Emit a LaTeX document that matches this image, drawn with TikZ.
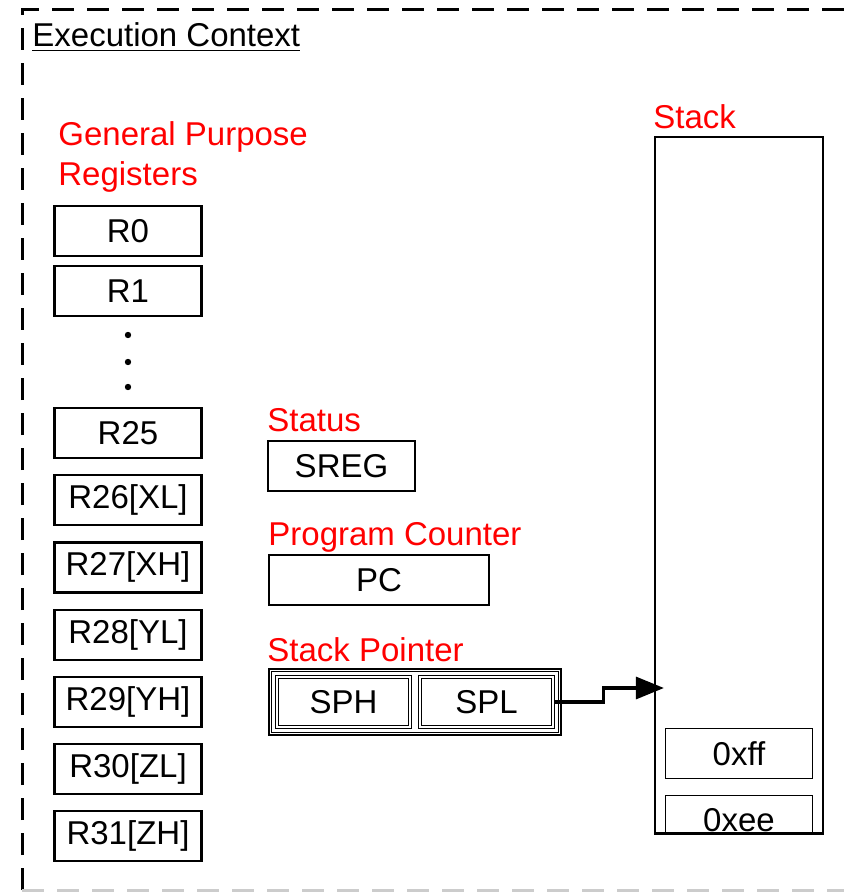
\documentclass[tikz,border=0pt]{standalone}
\usepackage{fontspec}
\setmainfont{Liberation Sans}
\usepackage{tikz}
\usetikzlibrary{arrows.meta,positioning,fit}

\begin{document}
\begin{tikzpicture}[
  x=0.5pt, y=-0.5pt,
  node distance=7.5pt,
  font=\fontsize{16.5}{20}\selectfont,
  reg/.style={rectangle, draw, line width=1.1pt, minimum width=73.5pt, minimum height=25pt, inner sep=0pt},
  cell/.style={rectangle, draw, line width=0.8pt, double, double distance=0.6pt, minimum height=25pt, inner sep=0pt},
  title/.style={anchor=base west, inner sep=0pt, text=red, align=left},
  ptr/.style={-{Triangle[length=14pt,width=11pt]}, line width=1.6pt}
]
  \useasboundingbox (0,0) rectangle (843,892);
  % outer frame (runs off the right edge)
  \draw[line width=1.5pt, dash pattern=on 11pt off 6.5pt] (22,890) -- (22,10) -- (870,10);
  \draw[line width=1.5pt, dash pattern=on 11pt off 6.5pt, gray!40] (22,890) -- (870,890);
  \node[anchor=base west, inner sep=0pt] (ctx) at (32,47) {\underline{Execution Context}};

  % general purpose registers
  \node[title] (gprlbl) at (58,186) {General Purpose\\Registers};
  \node[reg] (r0) at (128,231) {R0};
  \node[reg] (r1) at (128,291) {R1};
  \fill (128,335) circle (1.6pt);
  \fill (128,362) circle (1.6pt);
  \fill (128,387) circle (1.6pt);
  \node[reg] (r25) at (128,433) {R25};
  \node[reg, below=of r25] (r26) {R26[XL]};
  \node[reg, below=of r26] (r27) {R27[XH]};
  \node[reg, below=of r27] (r28) {R28[YL]};
  \node[reg, below=of r28] (r29) {R29[YH]};
  \node[reg, below=of r29] (r30) {R30[ZL]};
  \node[reg, below=of r30] (r31) {R31[ZH]};

  % status, program counter, stack pointer
  \node[title] (sreglbl) at (267,431) {Status};
  \node[reg] (sreg) at (341.5,466) {SREG};
  \node[title] (pclbl) at (268,545) {Program Counter};
  \node[reg, minimum width=110pt] (pc) at (379,580) {PC};
  \node[title] (splbl) at (267,661) {Stack Pointer};
  \node[cell, minimum width=66.5pt] (sph) at (343.5,702) {SPH};
  \node[cell, minimum width=66.5pt] (spl) at (486.5,702) {SPL};
  \node[draw, line width=0.8pt, double, double distance=0.6pt, fit=(sph)(spl), inner sep=3pt] (sp) {};

  % stack
  \node[title] (stacklbl) at (653,129) {Stack};
  \node[draw, line width=1.1pt, minimum width=84pt, minimum height=348pt, inner sep=0pt] (stack) at (739,485) {};
  \node[reg, line width=0.9pt] (xff) at (739,753.5) {0xff};
  \begin{scope}
    \clip (stack.south west) rectangle (stack.north east);
    \node[reg, line width=0.9pt] (xee) at (739,820.5) {0xee};
  \end{scope}
  \draw[line width=1.1pt] (stack.south west) -- (stack.south east);

  \draw[ptr, shorten >=-5pt] (spl.east) -- ++(25pt,0) |- ([yshift=7pt]spl.east -| stack.west);
\end{tikzpicture}
\end{document}
